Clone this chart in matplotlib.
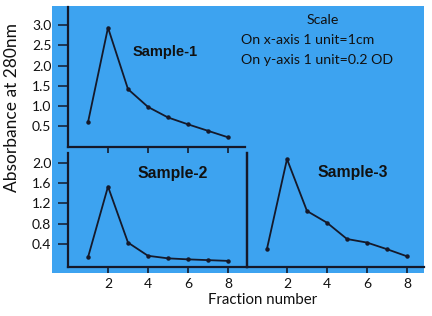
import numpy as np
import matplotlib
matplotlib.use('Agg')
import matplotlib.pyplot as plt
from matplotlib.patches import Rectangle

# Fraction numbers and absorbance readings (OD at 280 nm)
fractions = [1, 2, 3, 4, 5, 6, 7, 8]
sample1 = [0.60, 2.94, 1.42, 0.98, 0.72, 0.55, 0.39, 0.23]
sample2 = [0.14, 1.53, 0.43, 0.17, 0.12, 0.10, 0.085, 0.07]
sample3 = [0.31, 2.07, 1.05, 0.82, 0.50, 0.43, 0.30, 0.16]

top_yticks = [0.5, 1.0, 1.5, 2.0, 2.5, 3.0]
top_ylabels = ['0.5', '1.0', '1.5', '2.0', '2.5', '3.0']
bot_yticks = [0.4, 0.8, 1.2, 1.6, 2.0]
bot_ylabels = ['0.4', '0.8', '1.2', '1.6', '2.0']
xticks = [2, 4, 6, 8]

W, H = 432, 316
bg = '#3DA3F0'
ink = '#15192a'
label_font = 'Lato'

fig = plt.figure(figsize=(W / 100, H / 100), dpi=100)
fig.patch.set_facecolor('white')


def px_axes(x0, y0, x1, y1):
    # pixel box (top-left origin) -> figure axes
    return fig.add_axes([x0 / W, 1 - y1 / H, (x1 - x0) / W, (y1 - y0) / H])


# blue paper background
fig.patches.append(Rectangle((52 / W, 1 - 273 / H), 372 / W, 267 / H,
                             transform=fig.transFigure, facecolor=bg,
                             edgecolor='none', zorder=-5))


def style(ax, right=False):
    ax.set_facecolor('none')
    for s in ['top', 'right', 'left', 'bottom']:
        ax.spines[s].set_visible(False)
    ax.spines['left'].set_visible(True)
    ax.spines['bottom'].set_visible(True)
    if right:
        ax.spines['right'].set_visible(True)
    for s in ax.spines.values():
        s.set_color(ink)
        s.set_linewidth(1.6)
    ax.tick_params(axis='x', direction='out', length=4, width=1.2, color=ink,
                   labelsize=10, labelcolor='#111111', pad=4)
    ax.tick_params(axis='y', direction='out', length=7, width=1.1, color=ink,
                   labelsize=10, labelcolor='#111111', pad=5)
    for lab in ax.get_xticklabels() + ax.get_yticklabels():
        lab.set_fontfamily(label_font)


# Sample-1 (top left)
ax1 = px_axes(68, 7, 245, 147)
ax1.plot(fractions, sample1, color=ink, lw=1.3, marker='o', ms=2.2)
ax1.set_xlim(0, 8.85)
ax1.set_ylim(-0.01, 3.45)
ax1.set_xticks(xticks)
ax1.set_xticklabels([])
ax1.set_yticks(top_yticks)
ax1.set_yticklabels(top_ylabels)
style(ax1)
ax1.text(4.85, 2.35, 'Sample-1', fontsize=10.5, fontweight='bold',
         family='Liberation Sans', ha='center', va='center', color='#111111')

# Sample-2 (bottom left)
ax2 = px_axes(68, 153, 247, 267)
ax2.plot(fractions, sample2, color=ink, lw=1.3, marker='o', ms=2.2)
ax2.set_xlim(0, 8.95)
ax2.set_ylim(-0.05, 2.19)
ax2.set_xticks(xticks)
ax2.set_xticklabels([str(t) for t in xticks])
ax2.set_yticks(bot_yticks)
ax2.set_yticklabels(bot_ylabels)
style(ax2, right=True)
ax2.text(5.25, 1.78, 'Sample-2', fontsize=11.3, fontweight='bold',
         family='Liberation Sans', ha='center', va='center', color='#111111')

# Sample-3 (bottom right)
ax3 = px_axes(247, 153, 424, 267)
ax3.plot(fractions, sample3, color=ink, lw=1.3, marker='o', ms=2.2)
ax3.set_xlim(0, 8.85)
ax3.set_ylim(-0.05, 2.19)
ax3.set_xticks(xticks)
ax3.set_xticklabels([str(t) for t in xticks])
ax3.set_yticks([])
style(ax3)
ax3.text(5.3, 1.81, 'Sample-3', fontsize=11.3, fontweight='bold',
         family='Liberation Sans', ha='center', va='center', color='#111111')

# scale note
fig.text(323 / W, 1 - 20 / H, 'Scale', fontsize=10.2, family=label_font,
         ha='center', va='center', color='#111111')
fig.text(241 / W, 1 - 40 / H, 'On x-axis 1 unit=1cm', fontsize=10.2,
         family=label_font, ha='left', va='center', color='#111111')
fig.text(241 / W, 1 - 60 / H, 'On y-axis 1 unit=0.2 OD', fontsize=10.2,
         family=label_font, ha='left', va='center', color='#111111')

# axis titles
fig.text(12 / W, 1 - 107 / H, 'Absorbance at 280nm', fontsize=12.5,
         family=label_font, rotation=90, ha='center', va='center', color='#111111')
fig.text(263 / W, 1 - 300 / H, 'Fraction number', fontsize=10.8,
         family=label_font, ha='center', va='center', color='#111111')

fig.savefig('out.png', dpi=100, facecolor='white')
